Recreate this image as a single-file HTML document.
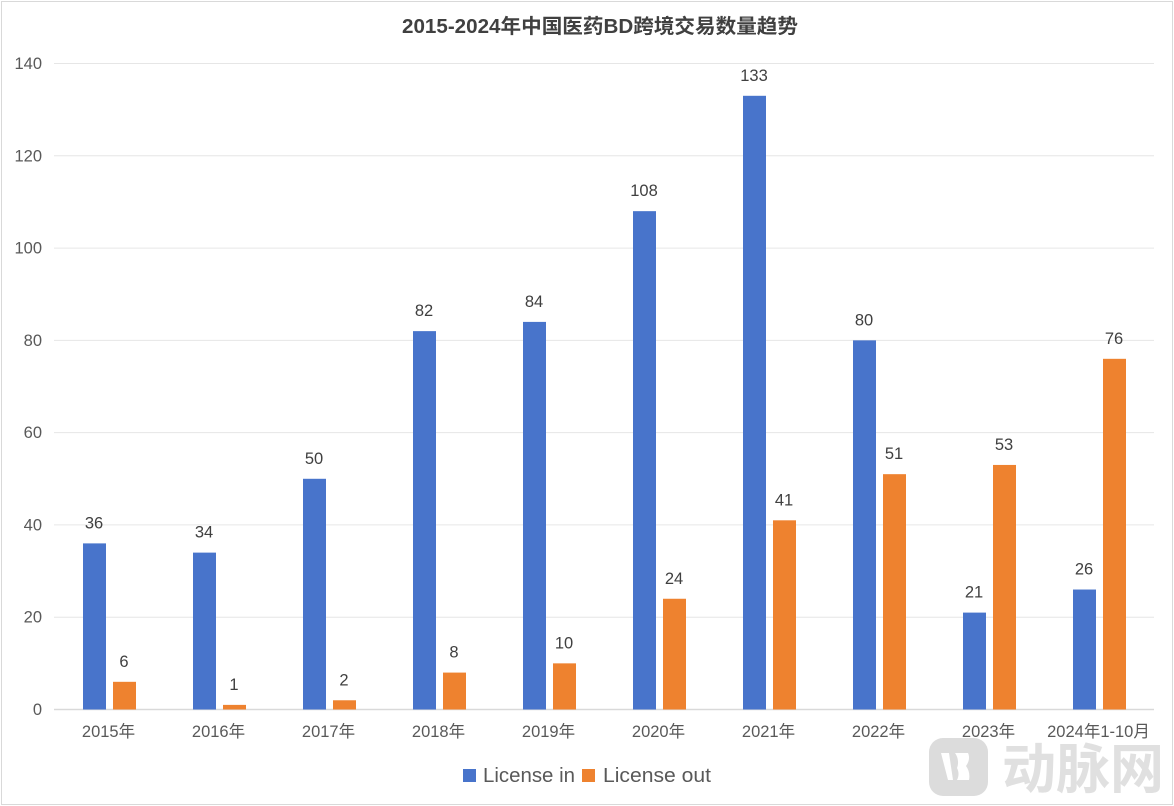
<!DOCTYPE html>
<html lang="zh">
<head>
<meta charset="utf-8">
<title>2015-2024年中国医药BD跨境交易数量趋势</title>
<style>
html,body{margin:0;padding:0;background:#fff;width:1174px;height:806px;overflow:hidden}
svg{display:block;font-family:"Liberation Sans","Noto Sans CJK SC",sans-serif}
</style>
</head>
<body>
<svg id="chart" width="1174" height="806" viewBox="0 0 1174 806" xmlns="http://www.w3.org/2000/svg">
  <rect x="1.5" y="1.5" width="1171" height="803" fill="#fff" stroke="#d9d9d9" stroke-width="1"/>
  <text x="600" y="33" text-anchor="middle" font-size="20" font-weight="700" fill="#404040" textLength="396" lengthAdjust="spacingAndGlyphs">2015-2024年中国医药BD跨境交易数量趋势</text>
  <g id="grid"></g>
  <g id="yticks"></g>
  <g id="bars"></g>
  <g id="values"></g>
  <g id="xticks"></g>
  <g>
    <g>
      <rect x="463" y="769" width="13" height="13" fill="#4874cb"/>
      <text x="483" y="782" font-size="20" fill="#595959" textLength="92" lengthAdjust="spacingAndGlyphs">License in</text>
    </g>
    <g>
      <rect x="582" y="769" width="13" height="13" fill="#ee822f"/>
      <text x="603" y="782" font-size="20" fill="#595959" textLength="108" lengthAdjust="spacingAndGlyphs">License out</text>
    </g>
  </g>
  <g>
    <rect x="929" y="738" width="59" height="58" rx="14" fill="#dcdcdc"/>
    <path fill="#fff" fill-rule="evenodd" d="M941 753h8l4 27h-5zM955 753h13c2 4 1 9-2 13 3 4 4 9 3 14h-12c2-4 2-8 0-12 2-5 1-11-2-15z"/>
    <text x="1002" y="788" font-size="54" font-weight="700" fill="#e0e0e0" textLength="162" lengthAdjust="spacingAndGlyphs">动脉网</text>
  </g>
</svg>
<script>
var categories = ["2015年","2016年","2017年","2018年","2019年","2020年","2021年","2022年","2023年","2024年1-10月"];
var licenseIn = [36,34,50,82,84,108,133,80,21,26];
var licenseOut = [6,1,2,8,10,24,41,51,53,76];
var yTicks = [0,20,40,60,80,100,120,140];

var NS = "http://www.w3.org/2000/svg";
var plotLeft = 54, plotRight = 1154, plotTop = 63.5, plotBottom = 709.5, yMax = 140;

function yPos(v){ return plotBottom - (v / yMax) * (plotBottom - plotTop); }
function xCenter(i){ return plotLeft + (i + 0.5) * (plotRight - plotLeft) / categories.length; }
function make(tag, attrs, text){
  var el = document.createElementNS(NS, tag);
  for (var k in attrs) el.setAttribute(k, attrs[k]);
  if (text !== undefined) el.textContent = text;
  return el;
}

var grid = document.getElementById("grid");
var yticks = document.getElementById("yticks");
var bars = document.getElementById("bars");
var values = document.getElementById("values");
var xticks = document.getElementById("xticks");

yTicks.forEach(function(t){
  var line = make("line", {x1:plotLeft, x2:plotRight, y1:yPos(t), y2:yPos(t), stroke:t === 0 ? "#d9d9d9" : "#e6e6e6", "stroke-width":t === 0 ? 1.5 : 1});
  
  
  grid.appendChild(line);
  var label = make("text", {x:42, y:yPos(t) + 5.5, "text-anchor":"end", "font-size":16.5, fill:"#595959"}, t);
  
  
  yticks.appendChild(label);
});

function drawSeries(series, offset, color, key){
  series.forEach(function(v, i){
    var x = xCenter(i) + offset;
    var bar = make("rect", {x:x, y:yPos(v), width:23, height:plotBottom - yPos(v), fill:color});
    
    
    bars.appendChild(bar);
    var label = make("text", {x:x + 11, y:yPos(v) - 15, "text-anchor":"middle", "font-size":16.5, fill:"#404040"}, v);
    
    
    values.appendChild(label);
  });
}
drawSeries(licenseIn, -26, "#4874cb", "license-in");
drawSeries(licenseOut, 4, "#ee822f", "license-out");

categories.forEach(function(c, i){
  var label = make("text", {x:xCenter(i) - 0.5, y:737, "text-anchor":"middle", "font-size":16.5, fill:"#595959"}, c);
  
  
  xticks.appendChild(label);
});
</script>
</body>
</html>
